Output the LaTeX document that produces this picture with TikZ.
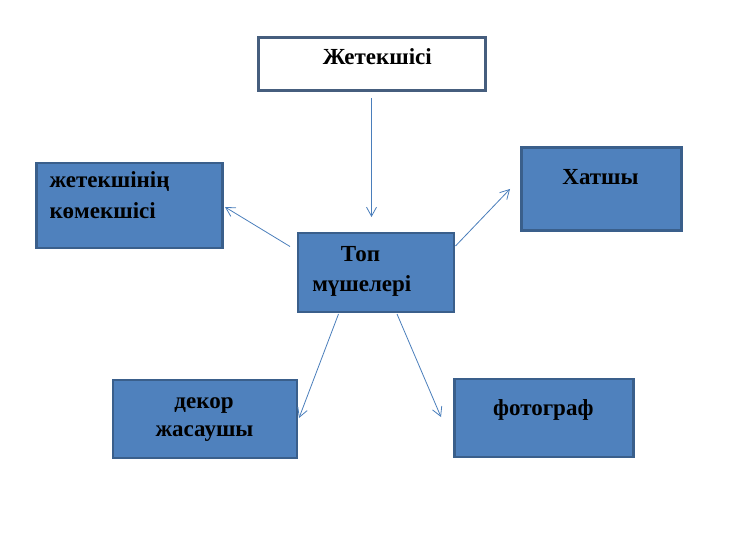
\documentclass[tikz,border=0pt]{standalone}
\usepackage{fontspec}
\setmainfont{Liberation Serif}
\usetikzlibrary{arrows.meta}
\definecolor{boxfill}{HTML}{4F81BD}
\definecolor{boxline}{HTML}{3A5F8B}
\definecolor{topline}{HTML}{465E7E}
\definecolor{arrowc}{HTML}{4A7EBB}
\begin{document}
\begin{tikzpicture}[x=1pt,y=-1pt,
  bluebox/.style={draw=boxline, line width=2.5pt, fill=boxfill, inner sep=0pt},
  whitebox/.style={draw=topline, line width=3pt, fill=white, inner sep=0pt},
  lbl/.style={font=\fontsize{23}{28}\selectfont\bfseries, text=black, inner sep=0pt, anchor=base},
  lblw/.style={lbl, anchor=base west},
  arr/.style={draw=arrowc, line width=0.8pt, -{Straight Barb[length=9pt,width=10pt]}}]
\useasboundingbox (0,0) rectangle (733,545);
% boxes
\node[whitebox, minimum width=227pt, minimum height=53pt] (top) at (371.7,64.4) {};
\node[bluebox, minimum width=186pt, minimum height=85pt] (helper) at (129.5,205.5) {};
\node[bluebox, minimum width=160pt, minimum height=83pt] (secr) at (601.5,188.9) {};
\node[bluebox, minimum width=156pt, minimum height=79pt] (mid) at (375.9,272.5) {};
\node[bluebox, minimum width=184pt, minimum height=78pt] (decor) at (205,418.8) {};
\node[bluebox, minimum width=179pt, minimum height=78pt] (photo) at (544,418) {};
% labels
\node[lbl] (ttop) at (377.3,65) {Жетекшісі};
\node[lblw] (thelp1) at (49.3,188) {жетекшінің};
\node[lblw] (thelp2) at (49.3,219) {көмекшісі};
\node[lbl] (tsecr) at (600.5,185) {Хатшы};
\node[lbl] (tmid1) at (360.5,261.7) {Топ};
\node[lbl] (tmid2) at (361.8,291.7) {мүшелері};
\node[lbl] (tdec1) at (204,408) {декор};
\node[lbl] (tdec2) at (204.5,436.7) {жасаушы};
\node[lbl] (tphoto) at (543.3,415) {фотограф};
% connector ends
\coordinate (a1) at (371.5,98);
\coordinate (a2) at (371.5,217);
\coordinate (b1) at (290,246.5);
\coordinate (b2) at (225,207);
\coordinate (c1) at (455.5,246);
\coordinate (c2) at (510,189);
\coordinate (d1) at (338.5,314);
\coordinate (d2) at (299,418);
\coordinate (e1) at (397,314);
\coordinate (e2) at (441,417);
\draw[arr] (a1) -- (a2);
\draw[arr] (b1) -- (b2);
\draw[arr] (c1) -- (c2);
\draw[arr] (d1) -- (d2);
\draw[arr] (e1) -- (e2);
\end{tikzpicture}
\end{document}
